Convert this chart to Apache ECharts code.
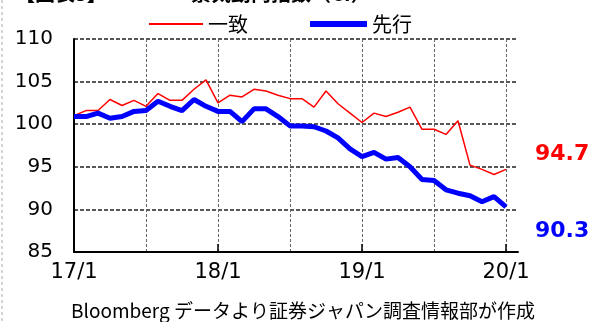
<!DOCTYPE html>
<html>
<head>
<meta charset="utf-8">
<script src="https://cdn.jsdelivr.net/npm/echarts@6/dist/echarts.min.js"></script>
<style>
  html, body { margin: 0; padding: 0; background: #fff; }
  #chart { width: 590px; height: 322px; }
</style>
</head>
<body>
<div id="chart"></div>
<script>
// Monthly axis, 2017/1 .. 2020/2 (last month left empty as right margin)
const months = [];
for (let y = 17; y <= 20; y++) {
  for (let m = 1; m <= 12; m++) {
    if (y === 20 && m > 2) break;
    months.push(y + '/' + m);
  }
}

// Coincident index (一致)
const coincident = [
  101.0, 101.6, 101.6, 102.9, 102.2, 102.8, 102.1, 103.6, 102.8, 102.8, 104.1, 105.2,
  102.5, 103.4, 103.2, 104.1, 103.9, 103.4, 103.0, 103.0, 102.0, 103.9, 102.4, 101.3,
  100.2, 101.3, 100.9, 101.4, 102.0, 99.4, 99.4, 98.8, 100.4, 95.2, 94.7, 94.1,
  94.7
];

// Leading index (先行)
const leading = [
  100.9, 100.9, 101.3, 100.7, 100.9, 101.5, 101.6, 102.7, 102.1, 101.6, 102.9, 102.1,
  101.5, 101.5, 100.3, 101.8, 101.8, 100.9, 99.8, 99.8, 99.7, 99.2, 98.4, 97.1,
  96.2, 96.7, 95.9, 96.1, 95.0, 93.5, 93.4, 92.3, 91.9, 91.6, 90.9, 91.5,
  90.3
];

const seriesNames = ['一致', '先行'];
const yTicks = [85, 90, 95, 100, 105, 110];

const numFont = 'DejaVu Sans';
const jpFont = '"Noto Sans CJK JP", "DejaVu Sans", sans-serif';

const legendText = { fontFamily: jpFont, fontSize: 20, color: '#000' };

const chart = echarts.init(document.getElementById('chart'), null, { renderer: 'canvas' });

chart.setOption({
  animation: false,
  backgroundColor: '#ffffff',
  title: [
    {
      text: '【図表3】',
      left: 10, top: -22,
      textStyle: { fontFamily: jpFont, fontSize: 20, fontWeight: 'bold', color: '#000' }
    },
    {
      text: '景気動向指数（CI）',
      left: 186, top: -22,
      textStyle: { fontFamily: jpFont, fontSize: 20, fontWeight: 'bold', color: '#000' }
    },
    {
      text: 'Bloomberg データより証券ジャパン調査情報部が作成',
      left: 66, top: 296,
      textStyle: { fontFamily: jpFont, fontSize: 19, fontWeight: 'normal', color: '#000' }
    }
  ],
  legend: [
    {
      data: [seriesNames[0]],
      left: 144, top: 9,
      icon: 'rect', itemWidth: 54, itemHeight: 2,
      textStyle: legendText
    },
    {
      data: [seriesNames[1]],
      left: 305, top: 9,
      icon: 'rect', itemWidth: 57, itemHeight: 6,
      textStyle: legendText
    }
  ],
  grid: { left: 74, top: 39, width: 444, height: 213, containLabel: false },
  xAxis: {
    type: 'category',
    data: months,
    boundaryGap: false,
    axisLine: { show: true, lineStyle: { color: '#000', width: 2 } },
    axisTick: {
      show: true, inside: true, length: 8,
      interval: (i) => i % 12 === 0,
      lineStyle: { color: '#000', width: 1.5 }
    },
    axisLabel: {
      interval: (i) => i % 12 === 0,
      formatter: (v) => v,
      margin: 10,
      fontFamily: numFont, fontSize: 21, color: '#000'
    },
    splitLine: {
      show: true,
      interval: (i) => i > 0 && i % 6 === 0,
      lineStyle: { color: '#666', width: 1, type: [3, 2] }
    }
  },
  yAxis: {
    type: 'value',
    min: yTicks[0], max: yTicks[yTicks.length - 1], interval: 5,
    axisLine: { show: true, lineStyle: { color: '#000', width: 2 } },
    axisTick: { show: false },
    axisLabel: { margin: 21, fontFamily: numFont, fontSize: 20, color: '#000' },
    splitLine: { show: true, lineStyle: { color: '#222', width: 1.5, type: [4, 2] } }
  },
  series: [
    {
      name: seriesNames[0],
      type: 'line',
      data: coincident,
      symbol: 'none',
      lineStyle: { color: '#ff0000', width: 1.5 },
      itemStyle: { color: '#ff0000' },
      z: 3,
      endLabel: {
        show: true,
        formatter: (p) => p.value.toFixed(1),
        offset: [21, -15],
        fontFamily: numFont, fontSize: 22, fontWeight: 'bold', color: '#ff0000'
      }
    },
    {
      name: seriesNames[1],
      type: 'line',
      data: leading,
      symbol: 'none',
      lineStyle: { color: '#0000ff', width: 5 },
      itemStyle: { color: '#0000ff' },
      z: 4,
      endLabel: {
        show: true,
        formatter: (p) => p.value.toFixed(1),
        offset: [21, 24],
        fontFamily: numFont, fontSize: 22, fontWeight: 'bold', color: '#0000ff'
      }
    }
  ],
  graphic: [
    {
      type: 'line',
      shape: { x1: 2, y1: 0, x2: 2, y2: 322 },
      style: { stroke: '#aaa', lineWidth: 1, lineDash: [3, 3] }
    }
  ]
});
</script>
</body>
</html>
